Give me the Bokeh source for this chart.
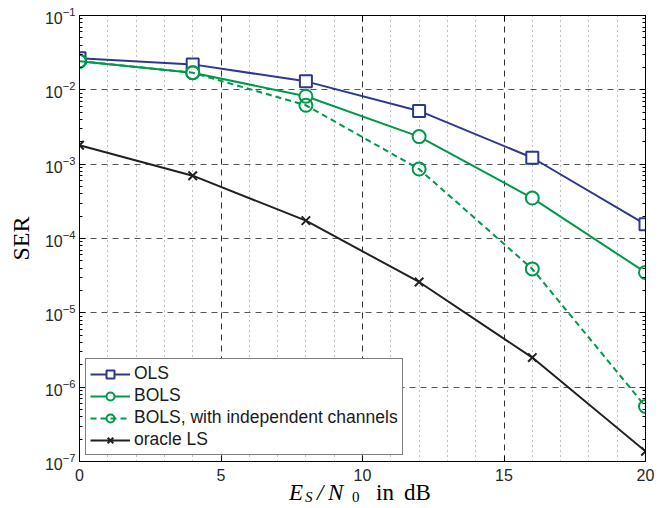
from bokeh.plotting import figure
from bokeh.models import (LogAxis, LinearAxis, FixedTicker, LogTicker, Div,
                          Legend, LegendItem, Range1d, CustomJSTickFormatter)
from bokeh.layouts import column
from bokeh.embed import file_html
from bokeh.resources import INLINE

snr_db = [0, 4, 8, 12, 16, 20]
ser_ols = [2.65e-2, 2.2e-2, 1.3e-2, 5.2e-3, 1.22e-3, 1.55e-4]
ser_bols = [2.43e-2, 1.7e-2, 8.2e-3, 2.35e-3, 3.5e-4, 3.5e-5]
ser_bols_ind = [2.43e-2, 1.7e-2, 6.2e-3, 8.6e-4, 3.9e-5, 5.5e-7]
ser_oracle = [1.8e-3, 7.0e-4, 1.74e-4, 2.6e-5, 2.5e-6, 1.37e-7]

x_major = [0, 5, 10, 15, 20]
x_minor = [1, 2, 3, 4, 6, 7, 8, 9, 11, 12, 13, 14, 16, 17, 18, 19]

BLUE = "#2b3990"
GREEN = "#00994c"
BLACK = "#231f20"
SANS = "Liberation Sans"
SERIF = "Liberation Serif"

p = figure(width=668, height=488, y_axis_type="log",
           x_range=Range1d(0, 20), y_range=Range1d(1e-7, 1e-1),
           output_backend="svg", toolbar_location=None,
           min_border_left=79, min_border_right=23,
           min_border_top=15, min_border_bottom=27)
p.outline_line_color = "black"
p.outline_line_width = 1

xt = FixedTicker(ticks=x_major, minor_ticks=x_minor)
p.xaxis.ticker = xt
for ax in [p.xaxis[0], p.yaxis[0]]:
    ax.major_tick_in = 6
    ax.major_tick_out = 0
    ax.minor_tick_in = 3
    ax.minor_tick_out = 0
    ax.axis_line_color = "black"
    ax.major_tick_line_color = "black"
    ax.minor_tick_line_color = "black"
    ax.major_label_text_font = SANS
    ax.major_label_text_font_size = "16px"
    ax.major_label_text_color = "#262626"
p.xaxis.minor_tick_in = 0
p.xaxis.major_label_standoff = 7
p.yaxis.major_label_standoff = 4
p.yaxis.ticker = LogTicker(num_minor_ticks=10)
p.yaxis.axis_label = "SER"
p.yaxis.axis_label_text_font = SERIF
p.yaxis.axis_label_text_font_size = "24px"
p.yaxis.axis_label_text_font_style = "normal"
p.yaxis.axis_label_text_color = "black"
p.yaxis.axis_label_standoff = 8

blank = CustomJSTickFormatter(code="return ''")
right = LogAxis(ticker=LogTicker(num_minor_ticks=10), formatter=blank,
                major_tick_in=6, major_tick_out=0, minor_tick_in=3, minor_tick_out=0,
                major_label_text_font_size="0px", major_label_standoff=0)
p.add_layout(right, "right")
top = LinearAxis(ticker=FixedTicker(ticks=x_major, minor_ticks=x_minor), formatter=blank,
                 major_tick_in=6, major_tick_out=0, minor_tick_in=0, minor_tick_out=0,
                 major_label_text_font_size="0px", major_label_standoff=0)
p.add_layout(top, "above")

p.xgrid.ticker = xt
p.xgrid.grid_line_color = "#333333"
p.xgrid.grid_line_dash = "6 5"
p.xgrid.grid_line_width = 1
p.xgrid.minor_grid_line_color = "#808080"
p.xgrid.minor_grid_line_dash = "1 4"
p.ygrid.grid_line_color = "#555555"
p.ygrid.grid_line_dash = "6 5"
p.ygrid.grid_line_width = 1
p.ygrid.minor_grid_line_color = None

l1 = p.line(snr_db, ser_ols, line_color=BLUE, line_width=2)
m1 = p.scatter(snr_db, ser_ols, marker="square", size=12, line_color=BLUE,
               line_width=2, fill_color="white")
l2 = p.line(snr_db, ser_bols, line_color=GREEN, line_width=2)
m2 = p.scatter(snr_db, ser_bols, marker="circle", size=13, line_color=GREEN,
               line_width=2, fill_color="white")
l3 = p.line(snr_db, ser_bols_ind, line_color=GREEN, line_width=2, line_dash="6 4")
m3 = p.scatter(snr_db, ser_bols_ind, marker="circle", size=13, line_color=GREEN,
               line_width=2, fill_color=None)
l4 = p.line(snr_db, ser_oracle, line_color=BLACK, line_width=2)
m4 = p.scatter(snr_db, ser_oracle, marker="x", size=12, line_color=BLACK, line_width=2)

legend = Legend(items=[
    LegendItem(label="OLS", renderers=[l1, m1]),
    LegendItem(label="BOLS", renderers=[l2, m2]),
    LegendItem(label="BOLS, with independent channels", renderers=[l3, m3]),
    LegendItem(label="oracle LS", renderers=[l4, m4]),
], location="bottom_left")
legend.margin = 6
legend.padding = 4
legend.spacing = 1
legend.glyph_width = 40
legend.glyph_height = 20
legend.label_height = 20
legend.label_standoff = 4
legend.label_text_font = SANS
legend.label_text_font_size = "17.5px"
legend.label_text_color = "#1a1a1a"
legend.border_line_color = "black"
legend.border_line_width = 1
legend.background_fill_color = "white"
legend.background_fill_alpha = 1
p.add_layout(legend)

# x-axis label  E_S / N_0 in dB  (real text, placed under the axis)
pieces = [
    ("E", 9, 11, 23, "italic"),
    ("S", 25, 20, 15, "italic"),
    ("/", 37, 11, 23, "italic"),
    ("N", 48, 11, 23, "italic"),
    ("0", 72, 20, 15, "normal"),
    ("in", 96, 11, 23, "normal"),
    ("dB", 124, 11, 23, "normal"),
]
spans = "".join(
    f'<span style="position:absolute;left:{x}px;top:{y}px;font-size:{fs}px;'
    f'line-height:{fs}px;font-style:{st};white-space:nowrap">{t}</span>'
    for t, x, y, fs, st in pieces)
html = ('<div style="position:relative;width:200px;height:34px;'
        "font-family:'Liberation Serif';color:#000\">" + spans + '</div>')
xlabel = Div(text=html, width=200, height=34, margin=(-18, 0, 0, 280))

layout = column(p, xlabel, spacing=0)
open("out.html", "w").write(file_html(layout, INLINE))
